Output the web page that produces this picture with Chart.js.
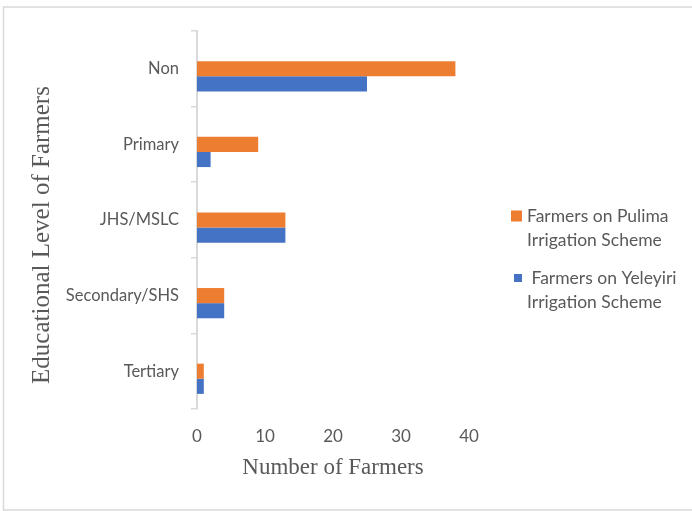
<!DOCTYPE html>
<html>
<head>
<meta charset="utf-8">
<script src="https://cdn.jsdelivr.net/npm/chart.js@4.4.0/dist/chart.umd.min.js"></script>
<style>
  body { margin: 0; background: #fff; }
  canvas { display: block; }
</style>
</head>
<body>
<canvas id="educationChart" width="692" height="511"></canvas>
<script>
// Education level of farmers on the two irrigation schemes
const levels = ['Non', 'Primary', 'JHS/MSLC', 'Secondary/SHS', 'Tertiary'];
const pulimaFarmers = [38, 9, 13, 4, 1];
const yeleyiriFarmers = [25, 2, 13, 4, 1];
const farmerTicks = [0, 10, 20, 30, 40];

const GREY_TEXT = '#595959';
const GREY_LINE = '#d9d9d9';
const sansFont = 'Lato, "Open Sans", sans-serif';
const serifFont = '"Liberation Serif", "DejaVu Serif", serif';

// frame around the figure, the rotated y title and the two-line legend
const framePlugin = {
    id: 'frameAndLegend',
    afterDraw(chart, args, opts) {
        const ctx = chart.ctx;
        ctx.save();
        ctx.strokeStyle = GREY_LINE;
        ctx.lineWidth = 1.5;
        ctx.strokeRect(3.5, 7, 720, 503);

        // y title sits a little below the middle of the axis
        ctx.save();
        ctx.translate(opts.yTitle.x, opts.yTitle.y);
        ctx.rotate(-Math.PI / 2);
        ctx.font = '25px ' + serifFont;
        ctx.fillStyle = GREY_TEXT;
        ctx.textAlign = 'center';
        ctx.textBaseline = 'middle';
        ctx.fillText(opts.yTitle.text, 0, 0);
        ctx.restore();

        ctx.font = '17.5px ' + sansFont;
        ctx.textBaseline = 'middle';
        ctx.textAlign = 'left';
        opts.items.forEach((item) => {
            const ds = chart.data.datasets[item.dataset];
            ctx.fillStyle = ds.backgroundColor;
            ctx.fillRect(opts.boxRight - item.box, item.y - item.box / 2, item.box, item.box);
            ctx.fillStyle = GREY_TEXT;
            ctx.fillText(item.lines[0], opts.textX, item.y);
            ctx.fillText(item.lines[1], opts.textX, item.y + opts.lineGap);
        });
        ctx.restore();
    }
};

const ctx = document.getElementById('educationChart');
const educationChart = new Chart(ctx, {
    type: 'bar',
    data: {
        labels: levels,
        datasets: [
            // empty slot, keeps the pair sitting low in each band
            {
                label: '',
                data: [],
                backgroundColor: 'transparent'
            },
            {
                label: 'Farmers on Pulima Irrigation Scheme',
                data: pulimaFarmers,
                backgroundColor: '#ED7D31'
            },
            {
                label: 'Farmers on Yeleyiri Irrigation Scheme',
                data: yeleyiriFarmers,
                backgroundColor: '#4472C4'
            }
        ]
    },
    options: {
        indexAxis: 'y',
        responsive: false,
        animation: false,
        categoryPercentage: 0.6,
        barPercentage: 1,
        layout: {
            padding: { left: 0, top: 31, right: 223, bottom: 0 }
        },
        scales: {
            x: {
                min: 0,
                max: 40,
                afterFit(scale) { scale.height = 102; },
                afterBuildTicks(scale) {
                    scale.ticks = farmerTicks.map(v => ({ value: v }));
                },
                grid: { display: false, drawTicks: false },
                border: { display: false },
                ticks: {
                    padding: 17,
                    color: GREY_TEXT,
                    font: { family: sansFont, size: 17 }
                },
                title: {
                    display: true,
                    text: 'Number of Farmers',
                    color: GREY_TEXT,
                    font: { family: serifFont, size: 23 },
                    padding: { top: 0, bottom: 29 }
                }
            },
            y: {
                afterFit(scale) { scale.width = 197; },
                offset: true,
                grid: {
                    offset: true,
                    drawOnChartArea: false,
                    tickLength: 6,
                    color: GREY_LINE,
                    lineWidth: 1.5
                },
                border: { color: GREY_LINE, width: 2 },
                ticks: {
                    padding: 12,
                    color: GREY_TEXT,
                    font: { family: sansFont, size: 16.5 }
                }
            }
        },
        plugins: {
            legend: { display: false },
            tooltip: { enabled: false },
            frameAndLegend: {
                yTitle: { text: 'Educational Level of Farmers', x: 42, y: 235 },
                boxRight: 522,
                textX: 527,
                lineGap: 24,
                items: [
                    { dataset: 1, y: 216, box: 11, lines: ['Farmers on Pulima', 'Irrigation Scheme'] },
                    { dataset: 2, y: 278, box: 8, lines: [' Farmers on Yeleyiri', 'Irrigation Scheme'] }
                ]
            }
        }
    },
    plugins: [framePlugin]
});
</script>
</body>
</html>
